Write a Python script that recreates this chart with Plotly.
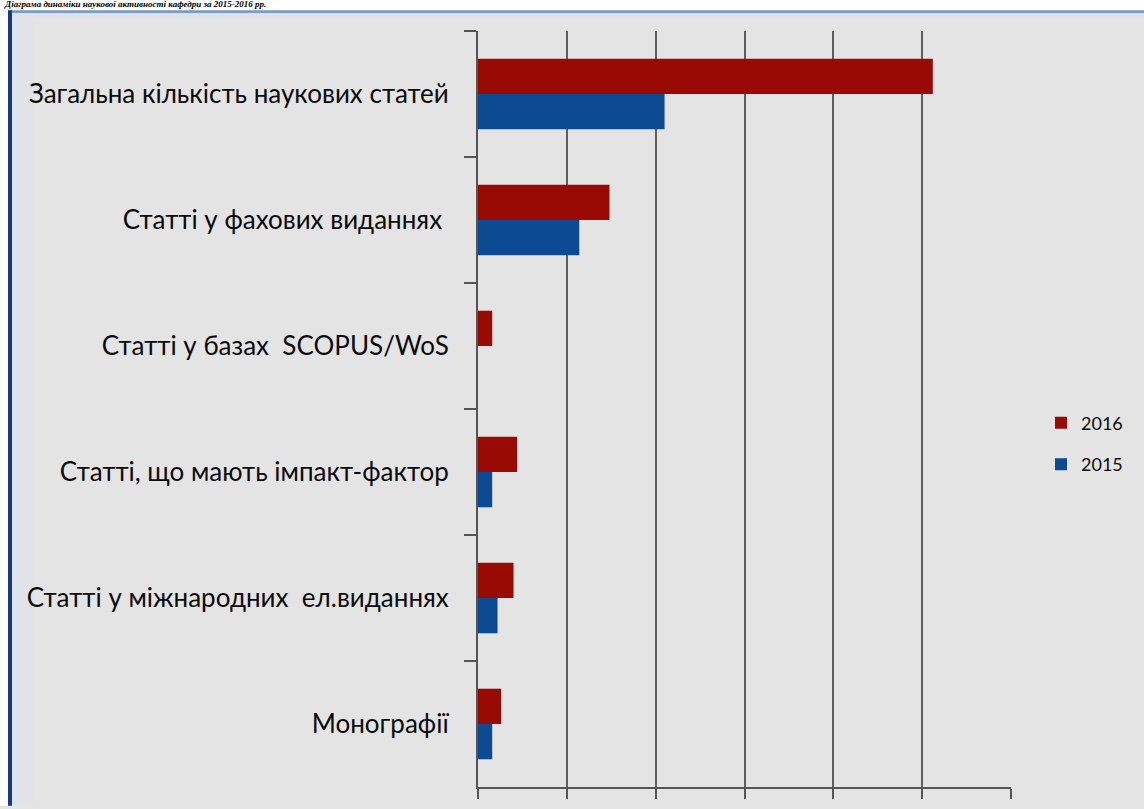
import plotly.graph_objects as go

categories = [
    "Загальна кількість наукових статей",
    "Статті у фахових виданнях ",
    "Статті у базах  SCOPUS/WoS",
    "Статті, що мають імпакт-фактор",
    "Статті у міжнародних  ел.виданнях",
    "Монографії",
]
values_2016 = [256, 74, 8, 22, 20, 13]
values_2015 = [105, 57, 0, 8, 11, 8]
series_names = ["2016", "2015"]
title_text = "Діаграма динаміки наукової активності кафедри за 2015-2016 рр."

W, H = 1144, 809
L, R, T, B = 478, 133, 31, 14
PW, PH = W - L - R, H - T - B

def px_x(p):
    return (p - L) / PW

def px_y(p):
    return (H - B - p) / PH

fig = go.Figure()
fig.add_trace(go.Bar(y=categories, x=values_2016, name=series_names[0], orientation="h",
                     marker=dict(color="#990A05", line=dict(width=0)), legendgroup="a"))
fig.add_trace(go.Bar(y=categories, x=values_2015, name=series_names[1], orientation="h",
                     marker=dict(color="#0C4A94", line=dict(width=0)), legendgroup="b"))

shapes = [
    dict(type="rect", xref="paper", yref="paper", x0=px_x(-5), x1=px_x(W + 5), y0=px_y(10), y1=px_y(-5),
         fillcolor="white", line=dict(width=0), layer="below"),
    dict(type="rect", xref="paper", yref="paper", x0=px_x(-5), x1=px_x(8), y0=px_y(H + 5), y1=px_y(-5),
         fillcolor="white", line=dict(width=0), layer="below"),
    dict(type="rect", xref="paper", yref="paper", x0=px_x(8), x1=px_x(W + 5), y0=px_y(13), y1=px_y(10),
         fillcolor="#7E9BC6", line=dict(width=0), layer="below"),
    dict(type="rect", xref="paper", yref="paper", x0=px_x(12), x1=px_x(W + 5), y0=px_y(18), y1=px_y(13),
         fillcolor="#DCE3EC", line=dict(width=0), layer="below"),
    dict(type="rect", xref="paper", yref="paper", x0=px_x(8), x1=px_x(12), y0=px_y(H + 5), y1=px_y(10),
         fillcolor="#163C7A", line=dict(width=0), layer="below"),
    dict(type="rect", xref="paper", yref="paper", x0=px_x(12), x1=px_x(22), y0=px_y(H + 5), y1=px_y(13),
         fillcolor="#DDE4EE", line=dict(width=0), layer="below"),
    dict(type="rect", xref="paper", yref="paper", x0=px_x(22), x1=px_x(34), y0=px_y(H + 5), y1=px_y(13),
         fillcolor="#E2E3E6", line=dict(width=0), layer="below"),
]

fig.update_layout(
    width=W, height=H,
    margin=dict(l=L, r=R, t=T, b=B, pad=0),
    paper_bgcolor="#E4E4E4",
    plot_bgcolor="#E4E4E4",
    barmode="group",
    bargap=0.44,
    bargroupgap=0,
    font=dict(family="Lato, Open Sans, sans-serif", color="#0A0A0A"),
    shapes=shapes,
    showlegend=True,
    legend=dict(
        x=px_x(1041), y=px_y(448), xanchor="left", yanchor="middle",
        font=dict(size=18, color="#0A0A0A"),
        bgcolor="rgba(0,0,0,0)",
        traceorder="grouped", tracegroupgap=15,
    ),
    xaxis=dict(
        range=[0, 300], dtick=50, tick0=0,
        showticklabels=False,
        showgrid=True, gridcolor="#5E5E5E", gridwidth=1.5,
        zeroline=False,
        showline=True, linecolor="#555555", linewidth=2,
        ticks="outside", ticklen=10, tickwidth=1.5, tickcolor="#555555",
        fixedrange=True,
    ),
    yaxis=dict(
        autorange="reversed",
        type="category",
        showgrid=False,
        showline=True, linecolor="#555555", linewidth=2,
        ticks="outside", tickson="boundaries", ticklen=12, tickwidth=1.5, tickcolor="#555555",
        tickfont=dict(size=26, color="#0A0A0A"),
        ticklabelstandoff=22,
        fixedrange=True,
    ),
    annotations=[
        dict(text="<b><i>" + title_text + "</i></b>", xref="paper", yref="paper",
             x=px_x(2), y=px_y(11), xanchor="left", yanchor="bottom", showarrow=False,
             font=dict(family="Liberation Serif, serif", size=9, color="#000000")),
    ],
)

fig.write_html("out.html", config={"displayModeBar": False},
               post_script="document.body.style.margin='0';document.body.style.padding='0';")
